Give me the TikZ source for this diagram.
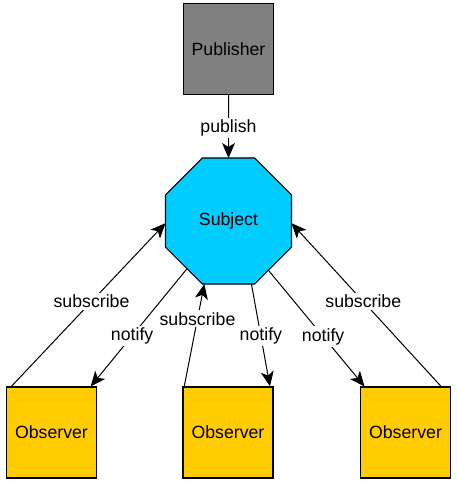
\documentclass[tikz,border=0pt]{standalone}
\usepackage{fontspec}
\setmainfont{Liberation Sans}
\usetikzlibrary{shapes.geometric,arrows.meta,calc}
\definecolor{pubgray}{HTML}{808080}
\definecolor{subjcyan}{HTML}{00CCFF}
\definecolor{obsyellow}{HTML}{FFCC00}
\begin{document}
\begin{tikzpicture}[x=1pt,y=-1pt,
  txt/.style={font=\fontsize{17.7}{20}\selectfont},
  box/.style={draw=black,line width=1.2pt,minimum width=90pt,minimum height=91pt,inner sep=0pt,txt},
  pubbox/.style={box,fill=pubgray},
  obsbox/.style={box,fill=obsyellow},
  octo/.style={regular polygon,regular polygon sides=8,draw=black,line width=1.2pt,fill=subjcyan,minimum size=136.4pt,inner sep=0pt,outer sep=0pt,txt},
  conn/.style={draw=black,line width=1pt,-{Stealth[length=15pt,width=13pt,inset=4pt]}},
  lbl/.style={fill=white,inner sep=2pt,txt}
]
\useasboundingbox (0,0) rectangle (456,484);
\node[pubbox] (pub) at (228.5,49) {Publisher};
\node[octo] (subj) at (228.5,221) {Subject};
\node[obsbox] (o1) at (51.5,432.5) {Observer};
\node[obsbox] (o2) at (228,432.5) {Observer};
\node[obsbox] (o3) at (405.5,432.5) {Observer};

\draw[conn] (pub.south) -- node[lbl,pos=0.52] {publish} (subj.north);
% left observer
\draw[conn] ($(o1.north west)!0.06!(o1.north east)$) -- node[lbl,pos=0.52] {subscribe} (subj.182);
\draw[conn] (subj.229) -- node[lbl,pos=0.57] {notify} ($(o1.north west)!0.93!(o1.north east)$);
% middle observer
\draw[conn] ($(o2.north west)!0.02!(o2.north east)$) -- node[lbl,pos=0.66] {subscribe} (subj.249);
\draw[conn] (subj.290.5) -- node[lbl,pos=0.51] {notify} ($(o2.north west)!0.96!(o2.north east)$);
% right observer
\draw[conn] (subj.309.6) -- node[lbl,pos=0.57] {notify} ($(o3.north west)!0.05!(o3.north east)$);
\draw[conn] ($(o3.north west)!0.89!(o3.north east)$) -- node[lbl,pos=0.52] {subscribe} (subj.358);
\end{tikzpicture}
\end{document}
